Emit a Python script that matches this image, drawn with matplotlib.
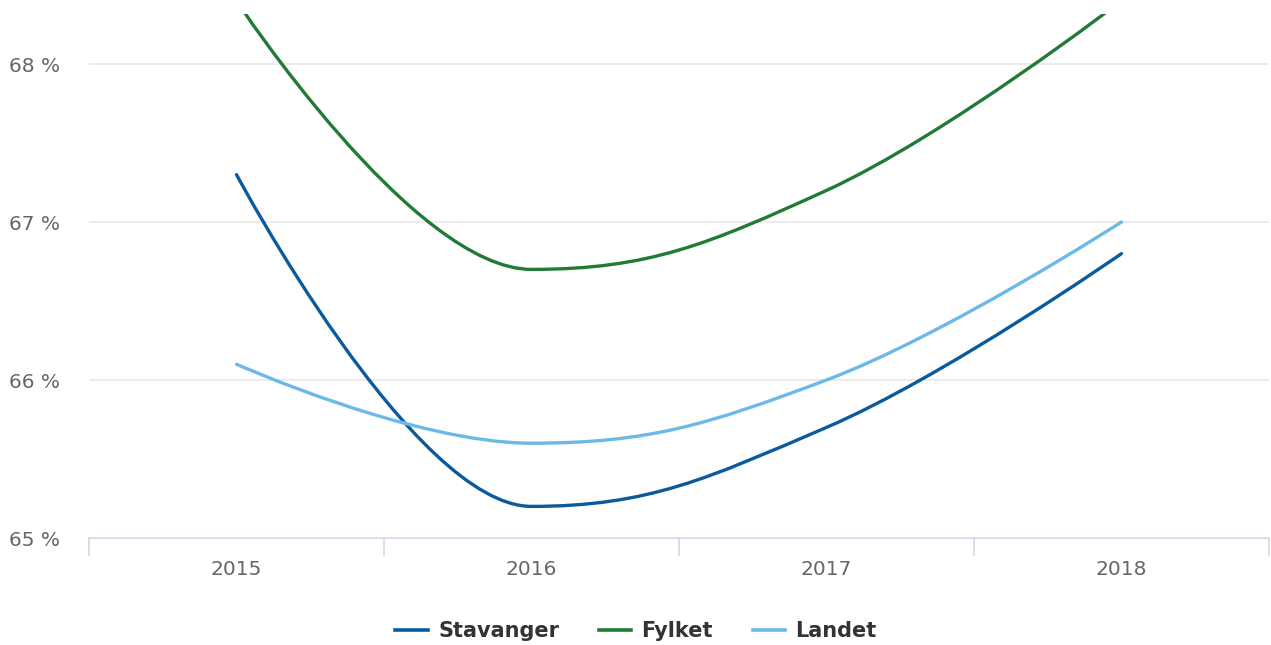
import matplotlib
matplotlib.use('Agg')
import matplotlib.pyplot as plt
from matplotlib.path import Path
from matplotlib.patches import PathPatch
from matplotlib.lines import Line2D

# data
years = ['2015', '2016', '2017', '2018']
stavanger = [67.3, 65.2, 65.7, 66.8]
fylket = [68.4, 66.7, 67.2, 68.4]
landet = [66.1, 65.6, 66.0, 67.0]

series_names = ['Stavanger', 'Fylket', 'Landet']
series_colors = ['#0a5a9c', '#217a35', '#6cb9e8']

C_GRID = '#e6e6e6'
C_AXIS = '#ccd6eb'
C_LABEL = '#666666'
C_LEGEND = '#333333'


def spline_path(xs, ys, smoothing=1.5):
    """Highcharts-style spline through the points, as a bezier Path."""
    n = len(xs)
    left = [None] * n
    right = [None] * n
    d = smoothing + 1
    for i in range(1, n - 1):
        px, py = xs[i], ys[i]
        lx, ly = xs[i - 1], ys[i - 1]
        nx, ny = xs[i + 1], ys[i + 1]
        lcx = (smoothing * px + lx) / d
        lcy = (smoothing * py + ly) / d
        rcx = (smoothing * px + nx) / d
        rcy = (smoothing * py + ny) / d
        if rcx != lcx:
            corr = (rcy - lcy) * (rcx - px) / (rcx - lcx) + py - rcy
            lcy += corr
            rcy += corr
        # keep control points between neighbours (no false extremes)
        if lcy > ly and lcy > py:
            lcy = max(ly, py)
            rcy = 2 * py - lcy
        elif lcy < ly and lcy < py:
            lcy = min(ly, py)
            rcy = 2 * py - lcy
        if rcy > ny and rcy > py:
            rcy = max(ny, py)
            lcy = 2 * py - rcy
        elif rcy < ny and rcy < py:
            rcy = min(ny, py)
            lcy = 2 * py - rcy
        left[i] = (lcx, lcy)
        right[i] = (rcx, rcy)

    verts = [(xs[0], ys[0])]
    codes = [Path.MOVETO]
    for i in range(1, n):
        c1 = right[i - 1] or (xs[i - 1], ys[i - 1])
        c2 = left[i] or (xs[i], ys[i])
        verts += [c1, c2, (xs[i], ys[i])]
        codes += [Path.CURVE4] * 3
    return Path(verts, codes)


W, H = 1271, 645
fig = plt.figure(figsize=(W / 100, H / 100), dpi=100, facecolor='white')
ax = fig.add_axes([89 / W, 1 - 538 / H, 1180 / W, 524 / H])

x = list(range(len(years)))
for vals, color in zip([stavanger, fylket, landet], series_colors):
    patch = PathPatch(spline_path(x, vals), fill=False, edgecolor=color,
                      lw=2.4, capstyle='round', joinstyle='round', zorder=3)
    ax.add_patch(patch)

ax.set_xlim(-0.5, len(years) - 0.5)
ax.set_ylim(65, 68 + 50 / 158)

# y axis
ax.set_yticks([65, 66, 67, 68])
ax.set_yticklabels(['65 %', '66 %', '67 %', '68 %'])
ax.tick_params(axis='y', length=0, pad=21, labelsize=14.5, labelcolor=C_LABEL)
for yv in [66, 67, 68]:
    ax.axhline(yv, color=C_GRID, lw=1.1, zorder=1)

# x axis
ax.set_xticks(x)
ax.set_xticklabels(years)
ax.set_xticks([i - 0.5 for i in range(len(years) + 1)], minor=True)
ax.tick_params(axis='x', which='major', length=0, pad=16, labelsize=14.5,
               labelcolor=C_LABEL)
ax.tick_params(axis='x', which='minor', length=13, width=1.1, color=C_AXIS)

for side in ['top', 'right', 'left']:
    ax.spines[side].set_visible(False)
ax.spines['bottom'].set_color(C_AXIS)
ax.spines['bottom'].set_linewidth(1.1)

handles = [Line2D([], [], color=c, lw=2.6) for c in series_colors]
leg = fig.legend(handles, series_names, loc='center', ncol=3,
                 bbox_to_anchor=(636 / W, 1 - 631 / H), frameon=False,
                 handlelength=1.55, handletextpad=0.5, columnspacing=1.9,
                 borderpad=0, prop={'size': 15, 'weight': 'bold'})
for t in leg.get_texts():
    t.set_color(C_LEGEND)

fig.savefig('out.png', dpi=100, facecolor='white')
